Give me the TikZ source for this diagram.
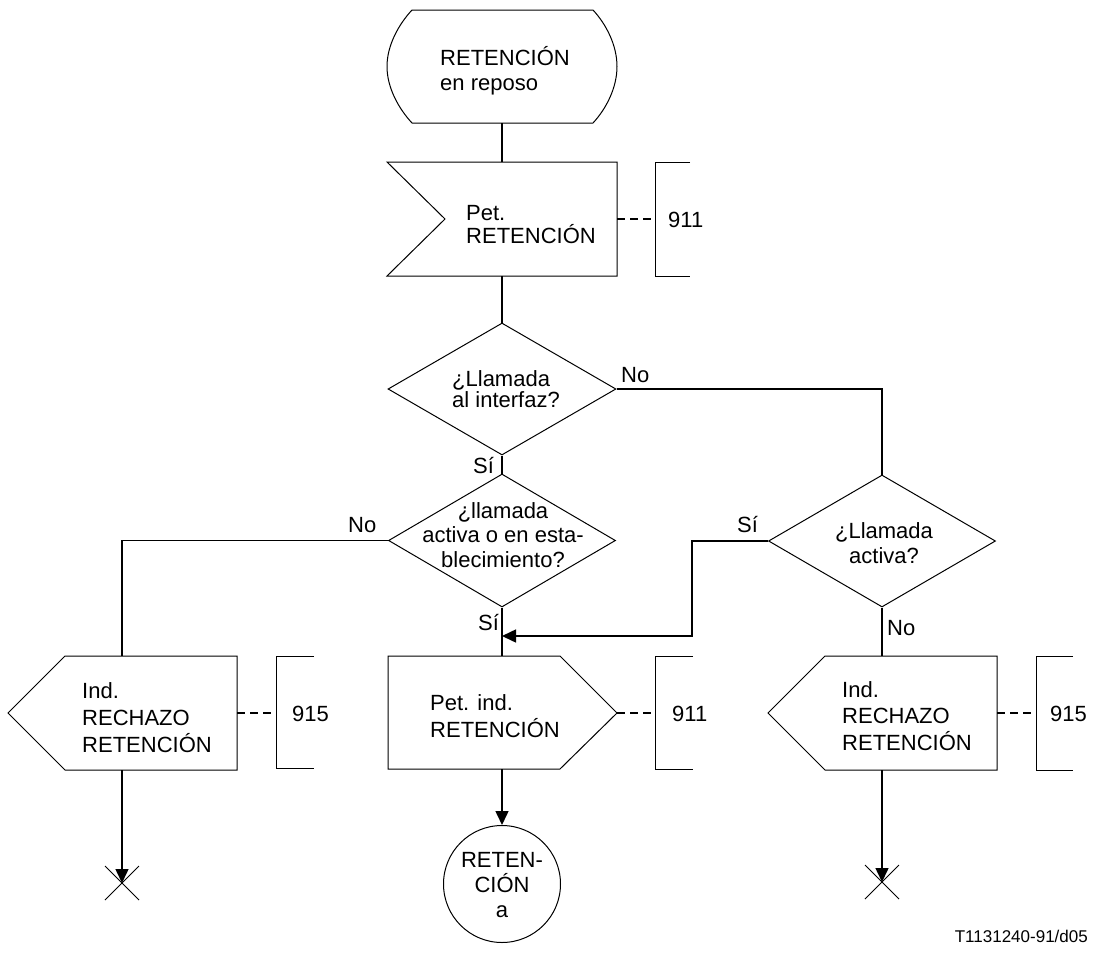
\documentclass[tikz,border=0pt]{standalone}
\usepackage{fontspec}
\setmainfont{Liberation Sans}
\usetikzlibrary{shapes.geometric,arrows.meta}
\newcommand{\fs}[1]{\fontsize{22}{#1}\selectfont}
\begin{document}
\begin{tikzpicture}[x=1pt,y=-1pt,
  shp/.style={draw, line width=1pt},
  conn/.style={line width=1.5pt},
  arr/.style={conn,-{Triangle[length=14pt,width=13pt]}},
  dsh/.style={line width=1.5pt, dash pattern=on 8pt off 5pt},
  txt/.style={inner sep=0pt, align=left, anchor=base west},
  ctxt/.style={inner sep=0pt, align=center, anchor=base},
  lbl/.style={inner sep=0pt, anchor=base west, font=\fs{25}},
  dia/.style={diamond, draw, line width=1pt, inner sep=0pt},
]
\useasboundingbox (0,0) rectangle (1096,956);

% ---- start state
\draw[shp] (412,10) -- (593,10) .. controls (606,24) and (617,45) .. (617,66.5)
  .. controls (617,88) and (606,109) .. (593,123) -- (412,123)
  .. controls (399,109) and (387,88) .. (387,66.5)
  .. controls (387,45) and (399,24) .. (412,10) -- cycle;
\node[txt, font=\fs{25}] (s0) at (440,90) {RETENCIÓN\\en reposo};
\coordinate (s0b) at (502,123);

% ---- input signal
\draw[shp] (387,162) -- (617,162) -- (617,276) -- (387,276) -- (445,219) -- cycle;
\node[txt, font=\fs{23}] (in1) at (466,243) {Pet.\\RETENCIÓN};
\coordinate (in1t) at (502,162);
\coordinate (in1b) at (502,276);
\coordinate (in1r) at (617,219);
\coordinate (br1) at (655,219);
\draw[shp] (690,162) -- (655,162) -- (655,276) -- (690,276);
\node[lbl] (n911a) at (668,227) {911};
\draw[dsh] (in1r) -- (br1);

% ---- decisions
\node[dia, minimum width=228, minimum height=132] (d1) at (502,389) {};
\node[txt, font=\fs{21}] (d1t) at (452,407) {¿Llamada\\al interfaz?};
\node[dia, minimum width=227, minimum height=133] (d2) at (502,540.5) {};
\node[ctxt, font=\fs{24.5}] (d2t) at (503,567) {¿llamada\\activa o en esta-\\blecimiento?};
\node[dia, minimum width=227, minimum height=132] (d3) at (882,541) {};
\node[ctxt, font=\fs{25}] (d3t) at (884,563) {¿Llamada\\activa?};

% ---- left output
\draw[shp] (8,713) -- (65,656) -- (237,656) -- (237,770) -- (65,770) -- cycle;
\node[txt, font=\fs{27}] (oL) at (82,752) {Ind.\\RECHAZO\\RETENCIÓN};
\coordinate (oLt) at (122,656);
\coordinate (oLb) at (122,770);
\coordinate (oLr) at (237,713);
\coordinate (brL) at (276,713);
\draw[shp] (314,656) -- (276,656) -- (276,768) -- (314,768);
\node[lbl] (n915a) at (292,721) {915};
\draw[dsh] (oLr) -- (brL);

% ---- middle output
\draw[shp] (388,656) -- (560,656) -- (617,713) -- (560,769) -- (388,769) -- cycle;
\node[txt, font=\fs{27}] (oM) at (430,737) {Pet. ind.\\RETENCIÓN};
\coordinate (oMt) at (502,656);
\coordinate (oMb) at (502,769);
\coordinate (oMr) at (617,713);
\coordinate (brM) at (655,713);
\draw[shp] (693,656) -- (655,656) -- (655,769) -- (693,769);
\node[lbl] (n911b) at (672,721) {911};
\draw[dsh] (oMr) -- (brM);

% ---- right output
\draw[shp] (768,713) -- (825,656) -- (997,656) -- (997,770) -- (825,770) -- cycle;
\node[txt, font=\fs{26.5}] (oR) at (842,750) {Ind.\\RECHAZO\\RETENCIÓN};
\coordinate (oRt) at (882,656);
\coordinate (oRb) at (882,770);
\coordinate (oRr) at (997,713);
\coordinate (brR) at (1036,713);
\draw[shp] (1073,656) -- (1036,656) -- (1036,770) -- (1073,770);
\node[lbl] (n915b) at (1050,721) {915};
\draw[dsh] (oRr) -- (brR);

% ---- next state
\node[circle, draw, line width=1pt, minimum size=117, inner sep=0pt] (c1) at (502,884) {};
\node[ctxt, font=\fs{25}] (c1t) at (502,917) {RETEN-\\CIÓN\\a};

% ---- stops
\coordinate (xL) at (122,883);
\coordinate (xR) at (882,882);
\draw[line width=1pt] (105,866) -- (139,900) (105,900) -- (139,866);
\draw[line width=1pt] (865,865) -- (899,899) (865,899) -- (899,865);

% ---- connectors
\coordinate (j1) at (692,636);
\coordinate (m1) at (502,636);
\draw[conn] (s0b) -- (in1t);
\draw[conn] (in1b) -- (d1.north);
\draw[conn] (d1.east) -| (d3.north);
\draw[conn] (d1.south) -- (d2.north);
\draw[conn] (d2.west) -| (oLt);
\draw[conn] (d2.south) -- (oMt);
\draw[conn] (d3.south) -- (oRt);
\draw[arr] (d3.west) -| (j1) -- (m1);
\draw[arr] (oMb) -- (c1.north);
\draw[arr] (oLb) -- (xL);
\draw[arr] (oRb) -- (xR);

% ---- labels
\node[lbl] (l1) at (621,382) {No};
\node[lbl] (l2) at (473,473) {Sí};
\node[lbl] (l3) at (348,532) {No};
\node[lbl] (l4) at (478,630) {Sí};
\node[lbl] (l5) at (737,532) {Sí};
\node[lbl] (l6) at (887,635) {No};

\node[inner sep=0pt, anchor=base east, font=\fontsize{17}{20}\selectfont] (ref) at (1088,942) {T1131240-91/d05};
\end{tikzpicture}
\end{document}
